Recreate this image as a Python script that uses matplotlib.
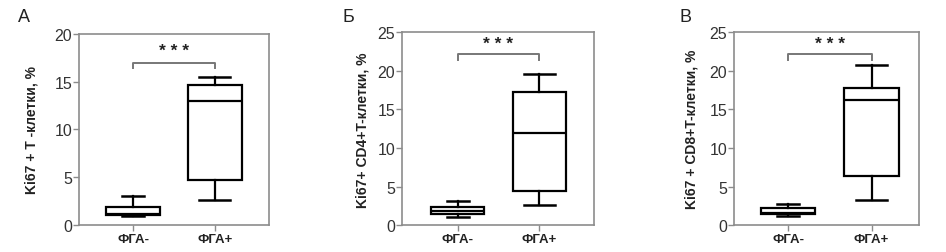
import matplotlib
matplotlib.use("Agg")
import matplotlib.pyplot as plt

plt.rcParams['font.family'] = ['Liberation Sans', 'DejaVu Sans']

groups = ['ФГА-', 'ФГА+']
panel_letters = ['А', 'Б', 'В']
ylabels = ['Ki67 + T -клетки, %', 'Ki67+ CD4+T-клетки, %', 'Ki67 + CD8+T-клетки, %']
ymax = [20, 25, 25]
yticks = [[0, 5, 10, 15, 20], [0, 5, 10, 15, 20, 25], [0, 5, 10, 15, 20, 25]]

# five-number summaries per panel: (whislo, q1, med, q3, whishi) for ФГА-, ФГА+
panel_a = [(0.9, 1.05, 1.2, 1.9, 3.0), (2.6, 4.7, 12.95, 14.65, 15.5)]
panel_b = [(1.07, 1.46, 1.9, 2.36, 3.2), (2.66, 4.46, 11.9, 17.2, 19.6)]
panel_c = [(1.16, 1.42, 1.6, 2.23, 2.78), (3.26, 6.44, 16.2, 17.8, 20.7)]
panels = [panel_a, panel_b, panel_c]

sig_y = [17.0, 22.2, 22.2]
star_y = [18.3, 23.6, 23.6]

# axes rectangles in figure fraction (left, bottom, width, height)
rects = [(0.0835, 0.1068, 0.2008, 0.755),
         (0.425, 0.1056, 0.203, 0.763),
         (0.776, 0.1056, 0.1955, 0.763)]
xlims = [(0.34, 2.66), (0.32, 2.67), (0.35, 2.57)]
letter_x = [0.019, 0.362, 0.718]
ylabel_x = [0.0328, 0.3827, 0.7305]

fig = plt.figure(figsize=(9.46, 2.53), dpi=100)
spine_col = '#8c8c8c'

for i, data in enumerate(panels):
    ax = fig.add_axes(rects[i])
    stats = []
    for g, (lo, q1, med, q3, hi) in zip(groups, data):
        stats.append(dict(whislo=lo, q1=q1, med=med, q3=q3, whishi=hi, label=g, fliers=[]))
    ax.bxp(stats, positions=[1, 2], widths=0.65, capwidths=[0.27, 0.38],
           showfliers=False, patch_artist=True,
           boxprops=dict(facecolor='white', edgecolor='black', linewidth=1.6),
           medianprops=dict(color='black', linewidth=1.6),
           whiskerprops=dict(color='black', linewidth=1.6),
           capprops=dict(color='black', linewidth=1.8))
    ax.set_xlim(*xlims[i])
    ax.set_ylim(0, ymax[i])
    ax.set_yticks(yticks[i])
    ax.set_xticks([1, 2])
    ax.set_xticklabels(groups, fontsize=9.5, fontweight='bold', color='#222222')
    for sp in ax.spines.values():
        sp.set_color(spine_col)
        sp.set_linewidth(1.2)
    ax.tick_params(axis='y', direction='out', length=4, width=1, color=spine_col,
                   labelsize=11.5, labelcolor='#333333', pad=1)
    ax.tick_params(axis='x', direction='out', length=4, width=1, color=spine_col, pad=1.5)

    # significance bracket
    y = sig_y[i]
    h = ymax[i] * 0.03
    ax.plot([1, 1, 2, 2], [y - h, y, y, y - h], color='#777777', lw=1.4, clip_on=False)
    ax.text(1.5, star_y[i], '* * *', ha='center', va='center', fontsize=12.5,
            fontweight='bold', color='#222222')

    fig.text(letter_x[i], 0.93, panel_letters[i], fontsize=13, ha='left', va='center',
             color='#222222')
    fig.text(ylabel_x[i], rects[i][1] + rects[i][3] / 2, ylabels[i], rotation=90,
             ha='center', va='center', fontsize=10, fontweight='bold', color='#222222')

fig.savefig('out.png', dpi=100, facecolor='white')
